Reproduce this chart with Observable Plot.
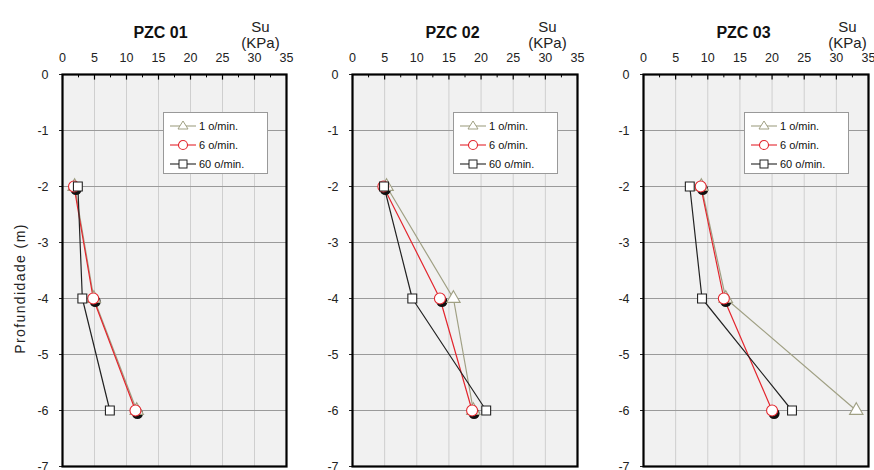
<!DOCTYPE html>
<html><head><meta charset="utf-8">
<script src="https://cdn.jsdelivr.net/npm/d3@7"></script>
<script src="https://cdn.jsdelivr.net/npm/@observablehq/plot@0.6"></script>
<style>
body{margin:0;background:#fff;font-family:"Liberation Sans",Arial,sans-serif;}
#wrap{position:relative;width:874px;height:470px;overflow:hidden;}
.panel{position:absolute;top:0;}
.legend{position:absolute;left:163px;top:112px;width:105px;height:62px;background:#fff;border:1px solid #999;box-sizing:border-box;font-size:11px;color:#111;padding-top:3px;}
.legend div{height:19px;display:flex;align-items:center;}
.legend svg{margin-left:4px;margin-right:1px;}
</style></head>
<body><div id="wrap"></div>
<script>
const depths = [-2, -4, -6];
const series = ["1 o/min.", "6 o/min.", "60 o/min."];
const panelTitles = ["PZC 01", "PZC 02", "PZC 03"];
const yLabel = "Profundidade (m)";
const unitLabel = ["Su", "(KPa)"];
const xTicks = [0, 5, 10, 15, 20, 25, 30, 35];
const xMinor = [2.5, 7.5, 12.5, 17.5, 22.5, 27.5, 32.5];
const yTicks = [0, -1, -2, -3, -4, -5, -6, -7];
// Su values (kPa) per panel: [1 o/min, 6 o/min, 60 o/min] at depths -2, -4, -6
const pzc01 = [[1.9, 4.9, 11.6], [1.8, 4.8, 11.4], [2.4, 3.1, 7.4]];
const pzc02 = [[5.3, 15.7, 18.8], [4.8, 13.6, 18.6], [4.9, 9.3, 20.8]];
const pzc03 = [[9.0, 12.8, 33.1], [8.9, 12.5, 20.0], [7.2, 9.1, 23.1]];
const panelValues = [pzc01, pzc02, pzc03];

const colors = ["#a0a084", "#e3262e", "#222222"];
const symbols = ["triangle", "circle", "square"];
const lefts = [0, 290, 581];
const widths = [290, 290, 293];
const marginRights = [4, 3, 6];
const titleDx = [98, 100, 100];
const suDx = [198, 195, 204];

const wrap = document.getElementById("wrap");

panelTitles.forEach((title, p) => {
  const vals = panelValues[p];
  const data = series.flatMap((s, i) => depths.map((d, j) => ({series: s, si: i, su: vals[i][j], depth: d})));
  const bySeries = i => data.filter(d => d.si === i);
  const marks = [
    Plot.frame({fill: "#f1f1f1", stroke: null}),
    Plot.ruleX(xTicks.slice(1, -1), {stroke: "#cfcfcf", strokeWidth: 1}),
    Plot.ruleY(yTicks.slice(1, -1), {stroke: "#9a9a9a", strokeWidth: 1.2}),
    Plot.ruleX(xTicks, {y1: 0, y2: -0.1, stroke: "#000", strokeWidth: 1.2}),
    Plot.ruleX(xMinor, {y1: 0, y2: -0.06, stroke: "#000", strokeWidth: 1}),
    Plot.frame({stroke: "#000", strokeWidth: 2.2}),
  ];
  series.forEach((s, i) => {
    marks.push(Plot.line(bySeries(i), {x: "su", y: "depth", stroke: colors[i], strokeWidth: 1.2}));
  });
  marks.push(Plot.dot(bySeries(1), {x: "su", y: "depth", r: 5.5, fill: "#111", dx: 2, dy: 3}));
  series.forEach((s, i) => {
    marks.push(Plot.dot(bySeries(i), {x: "su", y: "depth", symbol: () => symbols[i], r: i === 1 ? 5.5 : 5, fill: "#fff", stroke: colors[i], strokeWidth: 1.1}));
  });
  marks.push(Plot.text([title], {frameAnchor: "top-left", textAnchor: "middle", dx: titleDx[p], dy: -48, fontWeight: "bold", fontSize: 16, fill: "#111", style: "letter-spacing:1.3px"}));
  marks.push(Plot.text([unitLabel[0]], {frameAnchor: "top-left", textAnchor: "middle", dx: suDx[p], dy: -53, fontSize: 15, fill: "#222"}));
  marks.push(Plot.text([unitLabel[1]], {frameAnchor: "top-left", textAnchor: "middle", dx: suDx[p], dy: -37, fontSize: 15, fill: "#222"}));
  if (p === 0) {
    marks.push(Plot.text([yLabel], {frameAnchor: "left", textAnchor: "middle", rotate: -90, dx: -42, dy: 18, fontSize: 14, fill: "#222"}));
  }

  const chart = Plot.plot({
    width: widths[p], height: 470,
    marginLeft: 62, marginRight: marginRights[p], marginTop: 74, marginBottom: 4,
    style: {fontFamily: "'Liberation Sans', Arial, sans-serif", fontSize: "12.5px", background: "transparent", color: "#222", overflow: "visible"},
    x: {domain: [0, 35], axis: "top", ticks: xTicks, tickSize: 0, tickPadding: 13, label: null},
    y: {domain: [-7, 0], ticks: yTicks, tickSize: 3, tickPadding: 11, tickFormat: d => String(d), label: null},
    marks
  });
  chart.querySelectorAll("text").forEach(t => {
    if (t.textContent === yLabel) t.setAttribute("letter-spacing", "1.4");
  });
  const div = document.createElement("div");
  div.className = "panel";
  div.style.left = lefts[p] + "px";
  div.appendChild(chart);
  const leg = document.createElement("div");
  leg.className = "legend";
  series.forEach((s, i) => {
    const row = document.createElement("div");
    const c = colors[i];
    let sym;
    if (i === 0) sym = `<polygon points="15,1 20,9 10,9" fill="#fff" stroke="${c}" stroke-width="1"/>`;
    else if (i === 1) sym = `<circle cx="15" cy="6" r="4.5" fill="#fff" stroke="${c}" stroke-width="1.1"/>`;
    else sym = `<rect x="11" y="2" width="8" height="8" fill="#fff" stroke="${c}" stroke-width="1"/>`;
    row.innerHTML = `<svg width="30" height="12"><line x1="2" x2="28" y1="6" y2="6" stroke="${c}" stroke-width="1.1"/>${sym}</svg><span>${s}</span>`;
    leg.appendChild(row);
  });
  div.appendChild(leg);
  wrap.appendChild(div);
});
</script></body></html>
